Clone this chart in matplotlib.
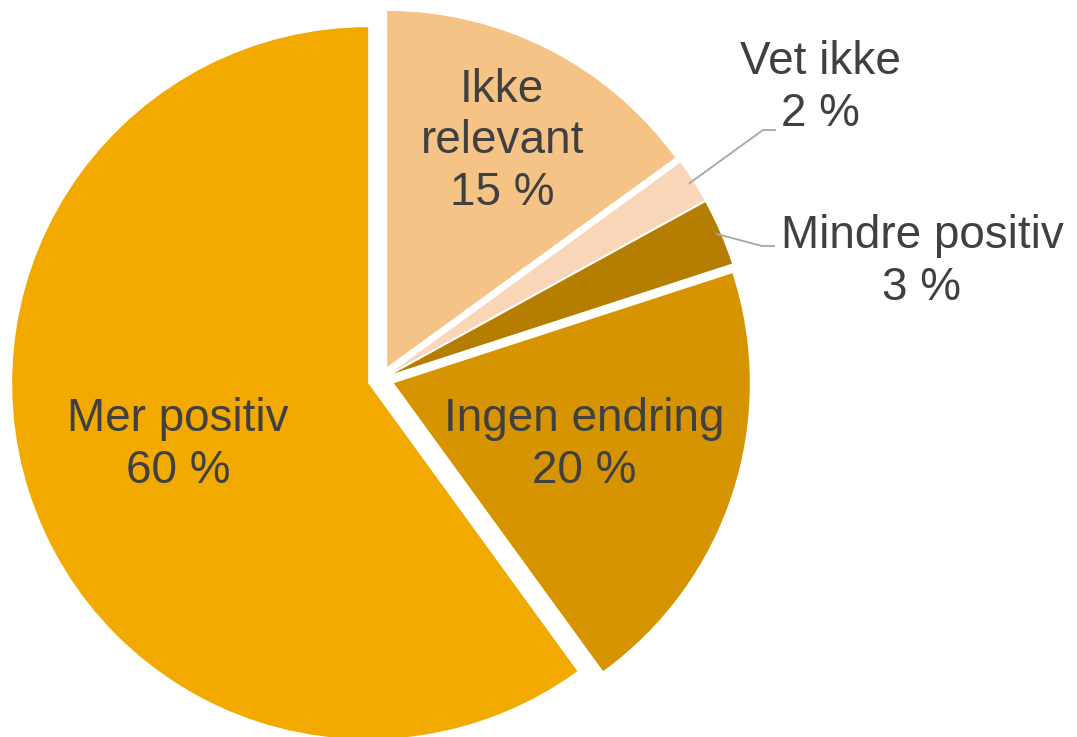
import numpy as np
import matplotlib.pyplot as plt

# Data (clockwise from 12 o'clock)
categories = ['Ikke\nrelevant', 'Vet ikke', 'Mindre positiv', 'Ingen endring', 'Mer positiv']
values = [15, 2, 3, 20, 60]
colors = ['#F5C386', '#F9D6B8', '#B57E00', '#D69500', '#F2AA00']

plt.rcParams['font.family'] = ['Liberation Sans', 'DejaVu Sans']

W, H = 1077, 737
fig = plt.figure(figsize=(W / 100, H / 100), dpi=100)
ax = fig.add_axes([0, 0, 1, 1])

center = (381, 358)
radius = 356
gap = 13.5
wedges, _ = ax.pie(values, colors=colors, startangle=90, counterclock=False,
                   center=center, radius=radius, explode=[gap] * len(values),
                   wedgeprops=dict(linewidth=0), frame=True)
ax.set_xlim(0, W)
ax.set_ylim(0, H)
ax.set_aspect('equal')
ax.axis('off')

text_color = '#404040'
fs = 33

# mid angle of each slice
mids = []
start = 90
for v in values:
    end = start - v * 3.6
    mids.append((start + end) / 2)
    start = end

# labels inside the big slices
inside = {0: 0.75, 3: 0.60, 4: 0.60}
for i, ratio in inside.items():
    a = np.radians(mids[i])
    x = center[0] + ratio * radius * np.cos(a)
    y = center[1] + ratio * radius * np.sin(a)
    ax.text(x, y, f'{categories[i]}\n{values[i]} %', ha='center', va='center',
            fontsize=fs, color=text_color, linespacing=1.22)

# small slices with leader lines
outside = {1: (820, 649, 763, 607), 2: (922, 475, 762, 491)}
for i, (tx, ty, lx, ly) in outside.items():
    a = np.radians(mids[i])
    ex = center[0] + gap * np.cos(a) + (radius - 4) * np.cos(a)
    ey = center[1] + gap * np.sin(a) + (radius - 4) * np.sin(a)
    ax.plot([ex, lx, lx + 12], [ey, ly, ly], color='#A6A6A6', lw=1.3)
    ax.text(tx, ty, f'{categories[i]}\n{values[i]} %', ha='center', va='center',
            fontsize=fs, color=text_color, linespacing=1.22)

fig.savefig('out.png', dpi=100)
